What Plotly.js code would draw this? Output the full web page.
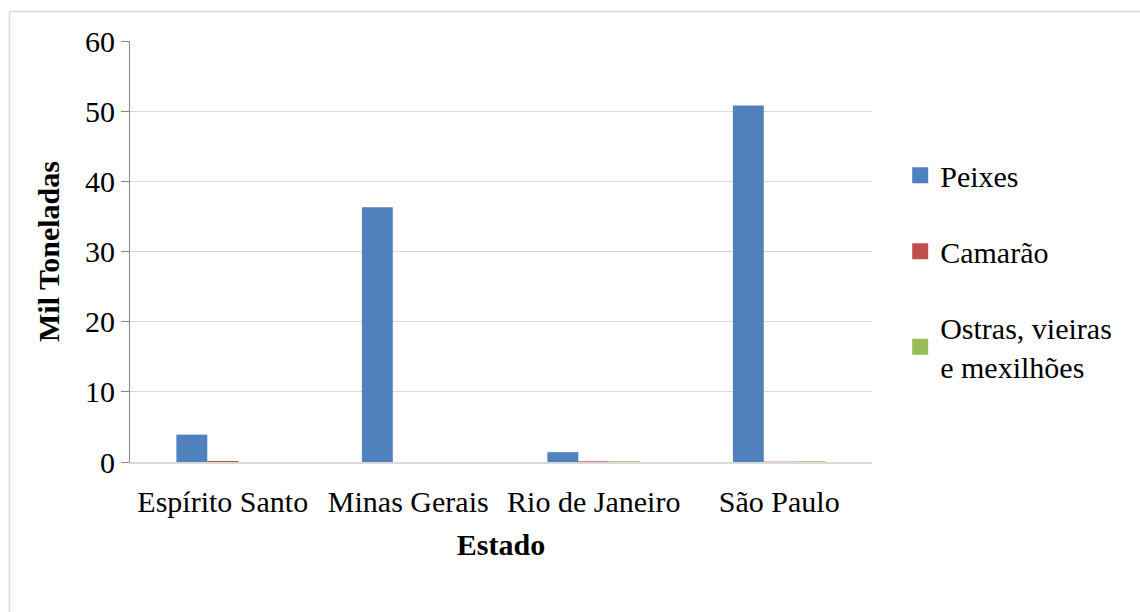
<!DOCTYPE html>
<html><head><meta charset="utf-8">
<script src="https://cdn.plot.ly/plotly-3.0.1.min.js"></script>
<style>html,body{margin:0;padding:0;background:#fff}#c{width:1140px;height:612px}</style>
</head><body><div id="c"></div>
<script>
const estados = ["Espírito Santo", "Minas Gerais", "Rio de Janeiro", "São Paulo"];
const peixes = [3.9, 36.3, 1.4, 50.8];
const camarao = [0.15, 0, 0.1, 0.05];
const ostras = [0, 0, 0.1, 0.1];
const seriesNames = ["Peixes", "Camarão", "Ostras, vieiras<br>e mexilhões"];
const colors = ["#4f81bd", "#c0504d", "#9bbb59"];
const font = "'Liberation Serif'";
const fs = 30;

const traces = [peixes, camarao, ostras].map((v, i) => ({
  type: "bar", x: estados, y: v, name: seriesNames[i], showlegend: false,
  marker: {color: colors[i]}, hoverinfo: "none"
}));
// legend proxies (square markers, no data points)
seriesNames.forEach((n, i) => traces.push({
  type: "scatter", mode: "markers", x: [null], y: [null], name: n, legendgroup: "g" + i,
  marker: {symbol: "square", size: 16, color: colors[i]}, hoverinfo: "none"
}));

const layout = {
  width: 1140, height: 612,
  margin: {l: 130, r: 268, t: 41, b: 150},
  paper_bgcolor: "#fff", plot_bgcolor: "#fff",
  barmode: "group", bargap: 0.5, bargroupgap: 0,
  font: {family: font, size: fs, color: "#000"},
  xaxis: {
    showline: true, linecolor: "#d9d9d9", linewidth: 2, ticks: "", tickangle: 0,
    ticklabelstandoff: 12,
    tickfont: {family: font, size: fs},
    title: {text: "<b>Estado</b>", font: {family: font, size: fs}, standoff: 17},
    fixedrange: true
  },
  yaxis: {
    range: [0, 60], dtick: 10, showline: true, linecolor: "#868686", linewidth: 1,
    ticks: "outside", ticklen: 8, tickcolor: "#868686",
    gridcolor: "#d9d9d9", gridwidth: 1, zeroline: false,
    tickfont: {family: font, size: fs},
    title: {text: "<b>Mil Toneladas</b>", font: {family: font, size: fs}, standoff: 16},
    fixedrange: true
  },
  legend: {
    x: 1.038, xanchor: "left", y: 0.743, yanchor: "top",
    bgcolor: "rgba(0,0,0,0)",
    font: {family: font, size: fs}, tracegroupgap: 34, itemwidth: 30,
    traceorder: "grouped"
  },
  showlegend: true,
  shapes: [
    {type: "line", xref: "paper", yref: "paper", x0: -0.1624, x1: 1.3612, y0: 1.0701, y1: 1.0701,
     line: {color: "#d9d9d9", width: 1.5}},
    {type: "line", xref: "paper", yref: "paper", x0: -0.1624, x1: -0.1624, y0: 1.0701, y1: -0.3563,
     line: {color: "#d9d9d9", width: 1.5}}
  ]
};
Plotly.newPlot("c", traces, layout, {displayModeBar: false, staticPlot: true});
</script></body></html>
